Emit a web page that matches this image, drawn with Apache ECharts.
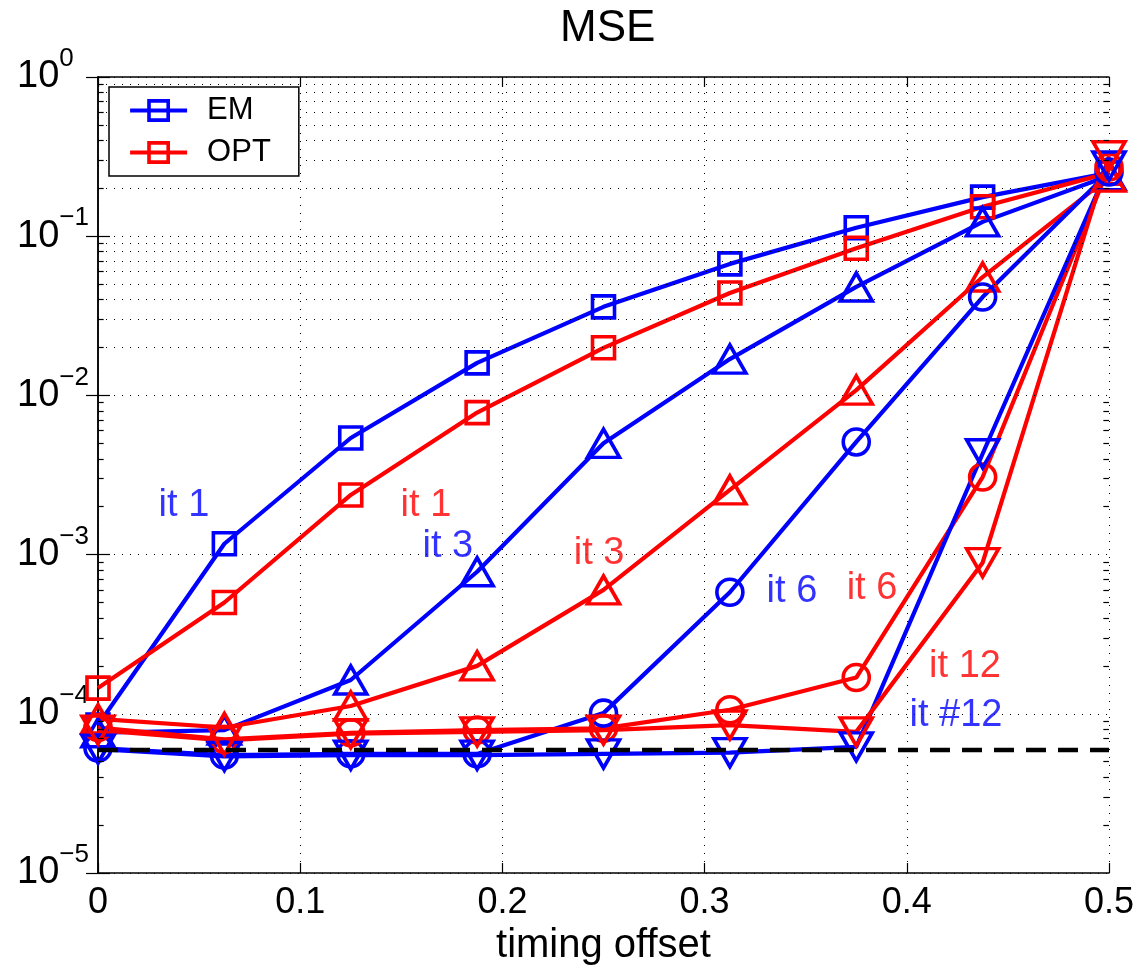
<!DOCTYPE html>
<html>
<head>
<meta charset="utf-8">
<title>MSE</title>
<script src="https://cdn.jsdelivr.net/npm/echarts@6/dist/echarts.min.js"></script>
<style>
html, body { margin: 0; padding: 0; background: #fff; }
#chart { width: 1142px; height: 973px; }
</style>
</head>
<body>
<div id="chart"></div>
<script>
// timing offsets
var offsets = [0, 0.0625, 0.125, 0.1875, 0.25, 0.3125, 0.375, 0.4375, 0.5];

// MSE per iteration count
var emIt1 = [8.5e-5, 1.17e-3, 5.4e-3, 0.016, 0.036, 0.067, 0.113, 0.176, 0.25];
var optIt1 = [1.45e-4, 5.0e-4, 2.37e-3, 7.8e-3, 0.0199, 0.044, 0.084, 0.153, 0.25];
var emIt3 = [7.6e-5, 7.9e-5, 1.63e-4, 7.8e-4, 5.0e-3, 0.0169, 0.048, 0.123, 0.24];
var optIt3 = [9.3e-5, 8.2e-5, 1.12e-4, 2.0e-4, 6.0e-4, 2.55e-3, 0.0108, 0.0554, 0.235];
var emIt6 = [6.1e-5, 5.5e-5, 5.6e-5, 5.6e-5, 1.01e-4, 5.8e-4, 5.1e-3, 0.0415, 0.253];
var optIt6 = [8.2e-5, 6.9e-5, 7.6e-5, 7.9e-5, 8.1e-5, 1.06e-4, 1.69e-4, 3.07e-3, 0.272];
var emIt12 = [6.0e-5, 5.4e-5, 5.5e-5, 5.5e-5, 5.6e-5, 5.7e-5, 6.2e-5, 4.3e-3, 0.276];
var optIt12 = [7.9e-5, 6.8e-5, 7.5e-5, 7.7e-5, 7.9e-5, 8.5e-5, 7.7e-5, 8.9e-4, 0.32];

// bound (dashed line)
var boundX = [0, 0.5];
var boundY = [5.93e-5, 5.93e-5];

// text labels next to the curves
var annoText = ['it 1', 'it 1', 'it 3', 'it 3', 'it 6', 'it 6', 'it 12', 'it #12'];
var annoX = [0.0425, 0.1622, 0.173, 0.2478, 0.3432, 0.3828, 0.4288, 0.4243];
var annoY = [2.02e-3, 2.02e-3, 1.12e-3, 1.02e-3, 5.9e-4, 6.08e-4, 1.97e-4, 9.8e-5];
var annoColor = ['#0000ff', '#ff0000', '#0000ff', '#ff0000', '#0000ff', '#ff0000', '#ff0000', '#0000ff'];

// axis ticks
var yDecades = [-5, -4, -3, -2, -1, 0];

var FONT = 'Liberation Sans, Arial, Helvetica, sans-serif';
var BLUE = '#0000ff', RED = '#ff0000';

function pairs(xs, ys) {
	var out = [];
	for (var i = 0; i < xs.length; i++) {
		out.push([xs[i], ys[i]]);
	}
	return out;
}

function curve(name, ys, color, shape) {
	var sym = 'rect', size = 22, rot = 0;
	if (shape == 'up') { sym = 'triangle'; size = [32, 28]; }
	if (shape == 'down') { sym = 'triangle'; size = [32, 28]; rot = 180; }
	if (shape == 'circle') { sym = 'circle'; size = 26; }
	return {
		name: name,
		type: 'line',
		data: pairs(offsets, ys),
		symbol: sym,
		symbolSize: size,
		symbolRotate: rot,
		showAllSymbol: true,
		lineStyle: { color: color, width: 4.2 },
		itemStyle: { color: 'transparent', borderColor: color, borderWidth: 3.6 },
		emphasis: { disabled: true },
		z: 3
	};
}

// minor log grid lines and ticks
var minorGrid = [], minorTicks = [];
for (var d = 0; d < yDecades.length - 1; d++) {
	for (var m = 2; m <= 9; m++) {
		var v = m * Math.pow(10, yDecades[d]);
		minorGrid.push({ yAxis: v });
		minorTicks.push([{ coord: [0, v] }, { coord: [0.0028, v] }]);
		minorTicks.push([{ coord: [0.4972, v] }, { coord: [0.5, v] }]);
	}
}

var annoData = [];
for (var k = 0; k < annoText.length; k++) {
	annoData.push({
		value: [annoX[k], annoY[k]],
		label: { formatter: annoText[k], color: annoColor[k] }
	});
}

var chart = echarts.init(document.getElementById('chart'), null, { renderer: 'canvas' });

var option = {
	animation: false,
	backgroundColor: '#fff',
	title: {
		text: 'MSE',
		left: 555,
		top: 2,
		textStyle: { fontFamily: FONT, fontSize: 44, fontWeight: 'normal', color: '#000' }
	},
	legend: {
		data: ['EM', 'OPT'],
		orient: 'vertical',
		left: 109,
		top: 87,
		padding: [8, 28, 8, 19],
		itemGap: 11,
		itemWidth: 57,
		itemHeight: 24,
		backgroundColor: '#fff',
		borderColor: '#000',
		borderWidth: 1.5,
		borderRadius: 0,
		lineStyle: { width: 4.2 },
		itemStyle: { borderWidth: 3.6 },
		textStyle: { fontFamily: FONT, fontSize: 31, color: '#000', lineHeight: 31, padding: [0, 0, 0, 15] },
		z: 10
	},
	grid: { left: 98, right: 33, top: 77, bottom: 100, containLabel: false },
	xAxis: [{
		type: 'value',
		min: 0,
		max: 0.5,
		interval: 0.1,
		name: 'timing offset',
		nameLocation: 'middle',
		nameGap: 46,
		nameTextStyle: { fontFamily: FONT, fontSize: 40, color: '#000' },
		axisLine: { lineStyle: { color: '#000', width: 1.5 } },
		axisTick: { inside: true, length: 10, lineStyle: { color: '#000', width: 1.2 } },
		axisLabel: {
			fontFamily: FONT, fontSize: 36, color: '#000', margin: 12,
			formatter: function(v) { return String(Math.round(v * 10) / 10); }
		},
		splitLine: { show: true, lineStyle: { type: [1, 7], color: '#000', width: 1 } }
	}, {
		type: 'value',
		position: 'top',
		min: 0,
		max: 0.5,
		interval: 0.1,
		axisLine: { lineStyle: { color: '#000', width: 1.5 } },
		axisTick: { inside: true, length: 10, lineStyle: { color: '#000', width: 1.2 } },
		axisLabel: { show: false },
		splitLine: { show: false }
	}],
	yAxis: [{
		type: 'log',
		logBase: 10,
		min: 1e-5,
		max: 1,
		axisLine: { show: true, lineStyle: { color: '#000', width: 1.5 } },
		axisTick: { show: true, inside: true, length: 12, lineStyle: { color: '#000', width: 1.2 } },
		axisLabel: {
			align: 'left',
			margin: 81,
			formatter: function(v) {
				var e = Math.round(Math.log(v) / Math.LN10);
				var s = e < 0 ? '\u2212' + (-e) : String(e);
				return '{b|10}{e|' + s + '}';
			},
			rich: {
				b: { fontFamily: FONT, fontSize: 38, color: '#000', lineHeight: 44 },
				e: { fontFamily: FONT, fontSize: 26, color: '#000', lineHeight: 26, padding: [0, 0, 36, 0] }
			}
		},
		splitLine: { show: true, lineStyle: { type: [1, 7], color: '#000', width: 1 } }
	}, {
		type: 'log',
		logBase: 10,
		min: 1e-5,
		max: 1,
		position: 'right',
		axisLine: { show: true, lineStyle: { color: '#000', width: 1.5 } },
		axisTick: { show: true, inside: true, length: 12, lineStyle: { color: '#000', width: 1.2 } },
		axisLabel: { show: false },
		splitLine: { show: false }
	}],
	series: [
		{
			name: 'grid',
			type: 'line',
			data: [],
			silent: true,
			z: 1,
			markLine: {
				silent: true,
				symbol: ['none', 'none'],
				label: { show: false },
				animation: false,
				lineStyle: { type: [1, 7], color: '#000', width: 1 },
				emphasis: { disabled: true },
				data: minorGrid
			}
		},
		{
			name: 'ticks',
			type: 'line',
			data: [],
			silent: true,
			z: 1,
			markLine: {
				silent: true,
				symbol: ['none', 'none'],
				label: { show: false },
				animation: false,
				lineStyle: { type: 'solid', color: '#000', width: 1.2 },
				emphasis: { disabled: true },
				data: minorTicks
			}
		},
		curve('EM', emIt1, BLUE, 'square'),
		curve('OPT', optIt1, RED, 'square'),
		curve('EM it 3', emIt3, BLUE, 'up'),
		curve('OPT it 3', optIt3, RED, 'up'),
		curve('EM it 6', emIt6, BLUE, 'circle'),
		curve('OPT it 6', optIt6, RED, 'circle'),
		curve('EM it 12', emIt12, BLUE, 'down'),
		curve('OPT it 12', optIt12, RED, 'down'),
		{
			name: 'bound',
			type: 'line',
			data: pairs(boundX, boundY),
			symbol: 'none',
			lineStyle: { color: '#000', width: 4.5, type: [20, 12] },
			emphasis: { disabled: true },
			z: 4
		},
		{
			name: 'labels',
			type: 'scatter',
			data: annoData,
			symbolSize: 0,
			silent: true,
			label: {
				show: true,
				position: 'inside',
				fontFamily: FONT,
				fontSize: 38
			},
			z: 5
		}
	]
};

chart.setOption(option);
</script>
</body>
</html>
